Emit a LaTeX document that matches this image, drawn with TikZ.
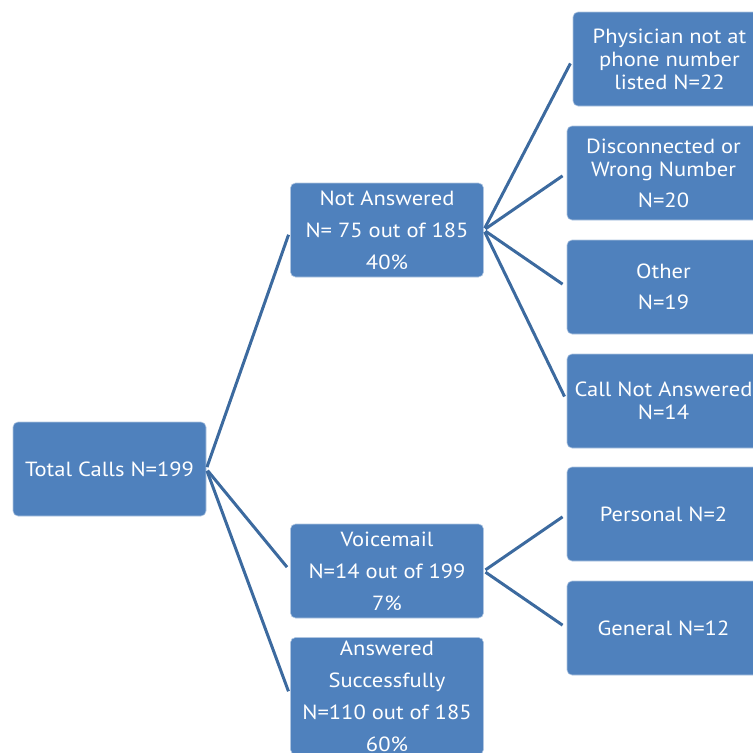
\documentclass[tikz,border=0pt]{standalone}
\usepackage{fontspec}
\setmainfont{PT Sans}[FakeStretch=1.1]
\usepackage{tikz}

\definecolor{boxblue}{HTML}{4F81BD}
\definecolor{lineblue}{HTML}{3C6A9F}

\begin{document}
\begin{tikzpicture}[x=1pt, y=-1pt]
  \tikzset{box/.style={draw=white!55!boxblue, line width=0.6pt, fill=boxblue,
      rounded corners=5pt, minimum width=193pt, minimum height=94pt,
      inner sep=0pt, text=white, align=center,
      font=\fontsize{20.5}{23}\selectfont}}
  \tikzset{wide/.style={font=\fontsize{20.5}{32}\selectfont}}
  \tikzset{link/.style={lineblue, line width=3pt, shorten <=2pt, shorten >=5pt}}

  \useasboundingbox (0,0) rectangle (753,753);
  \clip (0,0) rectangle (753,753);

  % root and first level
  \node [box] (total) at (109.5,469) {Total Calls N=199};
  \node [box, wide] (notans) at (387,230) {Not Answered\\N= 75 out of 185\\40\%};
  \node [box, wide] (voice) at (387,571) {Voicemail\\N=14 out of 199\\7\%};
  \node [box, wide, minimum height=117pt] (answered) at (387,696)
        {Answered\\Successfully\\N=110 out of 185\\60\%};

  % second level
  \node [box] (physician) at (669.5,59) {Physician not at\\phone number\\listed N=22};
  \node [box] (wrong) at (663.5,173) {Disconnected or\\Wrong Number\\[8pt]N=20};
  \node [box] (other) at (663.5,287) {Other\\[8pt]N=19};
  \node [box] (noanswer) at (663.5,401) {Call Not Answered\\N=14};
  \node [box] (personal) at (663.5,514) {Personal N=2};
  \node [box] (general) at (663.5,628) {General N=12};

  \foreach \c in {notans, voice, answered} {
    \draw [link] (total.east) -- (\c.west);
  }
  \foreach \c in {physician, wrong, other, noanswer} {
    \draw [link] (notans.east) -- (\c.west);
  }
  \foreach \c in {personal, general} {
    \draw [link] (voice.east) -- (\c.west);
  }

\end{tikzpicture}
\end{document}
